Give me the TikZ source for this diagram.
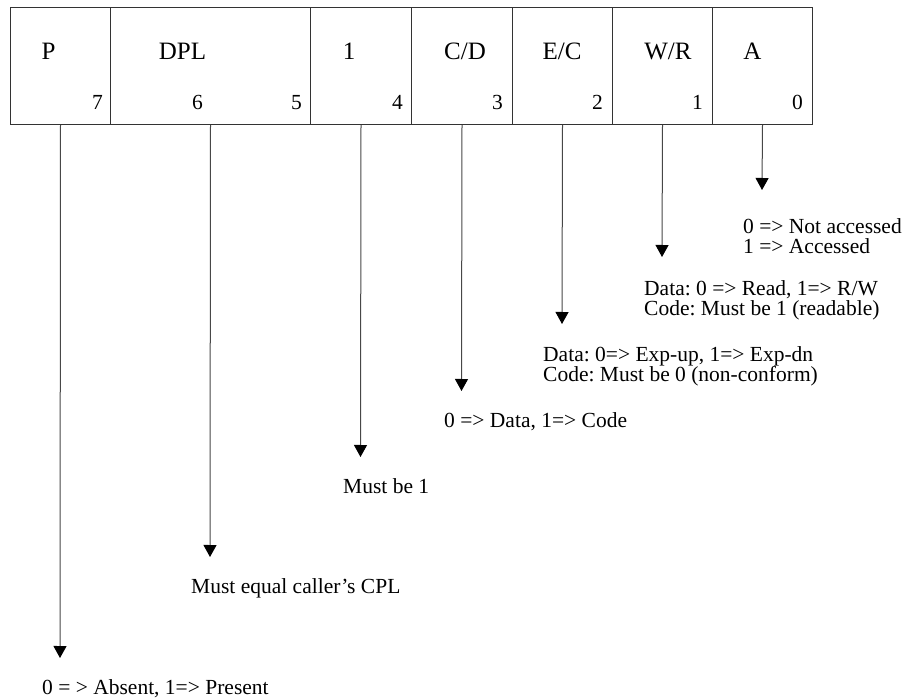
\documentclass[tikz,border=0pt]{standalone}
\usepackage{fontspec}
\setmainfont{Liberation Serif}
\usetikzlibrary{arrows.meta}
\frenchspacing
\begin{document}
\begin{tikzpicture}[x=1pt,y=-1pt,
  cellbox/.style={draw=black!80, line width=1pt, anchor=north west, minimum height=117pt, inner sep=0pt},
  lbl/.style={font=\fontsize{25}{30}\selectfont, anchor=base, inner sep=0pt},
  bitnum/.style={font=\fontsize{21.5}{25}\selectfont, anchor=base east, inner sep=0pt},
  note/.style={font=\fontsize{21.5}{20.5}\selectfont, align=left, anchor=base west, inner sep=0pt},
  arr/.style={draw=black!72, line width=1pt, -{Triangle[width=13pt,length=12pt,fill=black,color=black]}}]
\useasboundingbox (0,0) rectangle (913,700);
% cells
\node[cellbox, minimum width=100pt] (P)   at (10,7)  {};
\node[cellbox, minimum width=200pt] (DPL) at (110,7) {};
\node[cellbox, minimum width=101pt] (one) at (310,7) {};
\node[cellbox, minimum width=101pt] (CD)  at (411,7) {};
\node[cellbox, minimum width=100pt] (EC)  at (512,7) {};
\node[cellbox, minimum width=100pt] (WR)  at (612,7) {};
\node[cellbox, minimum width=100pt] (A)   at (712,7) {};
% labels
\node[lbl] (lP)   at (48.5,60)  {P};
\node[lbl] (lDPL) at (182.5,60) {DPL};
\node[lbl] (lone) at (349,60)   {1};
\node[lbl] (lCD)  at (465,60)   {C/D};
\node[lbl] (lEC)  at (562,60)   {E/C};
\node[lbl] (lWR)  at (668,60)   {W/R};
\node[lbl] (lA)   at (752.5,60) {A};
% bit numbers
\node[bitnum] (b7) at (103,110) {7};
\node[bitnum] (b6) at (203,110) {6};
\node[bitnum] (b5) at (302,110) {5};
\node[bitnum] (b4) at (403,110) {4};
\node[bitnum] (b3) at (503,110) {3};
\node[bitnum] (b2) at (603,110) {2};
\node[bitnum] (b1) at (703,110) {1};
\node[bitnum] (b0) at (803,110) {0};
% arrow tips
\coordinate (tP)   at (60,658);
\coordinate (tDPL) at (210,557);
\coordinate (tone) at (360.5,457);
\coordinate (tCD)  at (461.5,391);
\coordinate (tEC)  at (562,324);
\coordinate (tWR)  at (662,257);
\coordinate (tA)   at (762,190);
\draw[arr] (P.south)   -- (tP);
\draw[arr] (DPL.south) -- (tDPL);
\draw[arr] (one.south) -- (tone);
\draw[arr] (CD.south)  -- (tCD);
\draw[arr] (EC.south)  -- (tEC);
\draw[arr] (WR.south)  -- (tWR);
\draw[arr] (A.south)   -- (tA);
% notes (base = baseline of last line)
\node[note] (nA)   at (743,254) {0 => Not accessed\\1 => Accessed};
\node[note] (nWR)  at (644,316) {Data: 0 => Read, 1=> R/W\\Code: Must be 1 (readable)};
\node[note] (nEC)  at (543,382) {Data: 0=> Exp-up, 1=> Exp-dn\\Code: Must be 0 (non-conform)};
\node[note] (nCD)  at (444,428) {0 => Data, 1=> Code};
\node[note] (none) at (343,493) {Must be 1};
\node[note] (nDPL) at (191,593) {Must equal caller's CPL};
\node[note] (nP)   at (42,694)  {0 = > Absent, 1=> Present};
\end{tikzpicture}
\end{document}
